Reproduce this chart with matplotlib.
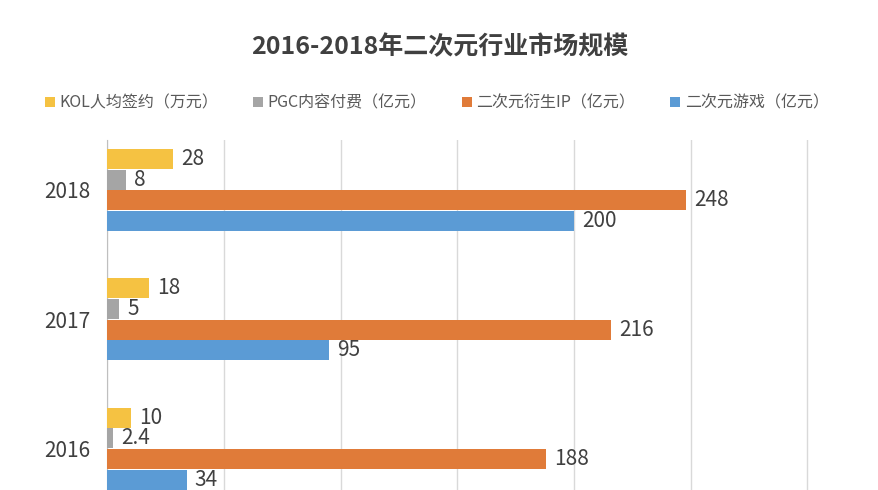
import matplotlib.pyplot as plt
import numpy as np

plt.rcParams['font.family'] = ['Noto Sans CJK SC', 'DejaVu Sans']

years = ['2016', '2017', '2018']
series_names = ['KOL人均签约（万元）', 'PGC内容付费（亿元）', '二次元衍生IP（亿元）', '二次元游戏（亿元）']
kol = [10, 18, 28]
pgc = [2.4, 5, 8]
ip = [188, 216, 248]
game = [34, 95, 200]
colors = ['#F5C242', '#A5A5A5', '#E07B39', '#5B9BD5']

fig = plt.figure(figsize=(8.79, 4.9), dpi=100)
ax = fig.add_axes([0.122, 0.0, 0.868, 0.714])

y = np.arange(len(years))
h = 0.155
offsets = [0.24, 0.08, -0.08, -0.24]
handles = []
for vals, off, col, name in zip([kol, pgc, ip, game], offsets, colors, series_names):
    b = ax.barh(y + off, vals, height=h, color=col, label=name, zorder=3)
    handles.append(b)
    for yi, v in zip(y, vals):
        ax.text(v + 3.5, yi + off, f'{v:g}', va='center', ha='left',
                fontsize=15, color='#404040', zorder=4)

ax.set_xlim(0, 327)
ax.set_ylim(-0.32, 2.385)
ax.set_xticks(np.arange(0, 301, 50))
ax.xaxis.grid(True, color='#d9d9d9', linewidth=1, zorder=0)
ax.tick_params(axis='x', length=0, labelbottom=False)
ax.set_yticks(y)
ax.set_yticklabels(years, fontsize=15, color='#404040')
ax.tick_params(axis='y', length=0, pad=12)
for s in ['top', 'right', 'bottom']:
    ax.spines[s].set_visible(False)
ax.spines['left'].set_color('#bfbfbf')

fig.text(0.5, 0.905, '2016-2018年二次元行业市场规模', ha='center', va='center',
         fontsize=18, fontweight='bold', color='#404040')
fig.legend(handles=handles, loc='center', bbox_to_anchor=(0.497, 0.79), ncol=4,
           frameon=False, fontsize=11.5, handlelength=0.6, handleheight=0.6,
           columnspacing=2.2, handletextpad=0.3, labelcolor='#595959')

fig.savefig('out.png', dpi=100)
